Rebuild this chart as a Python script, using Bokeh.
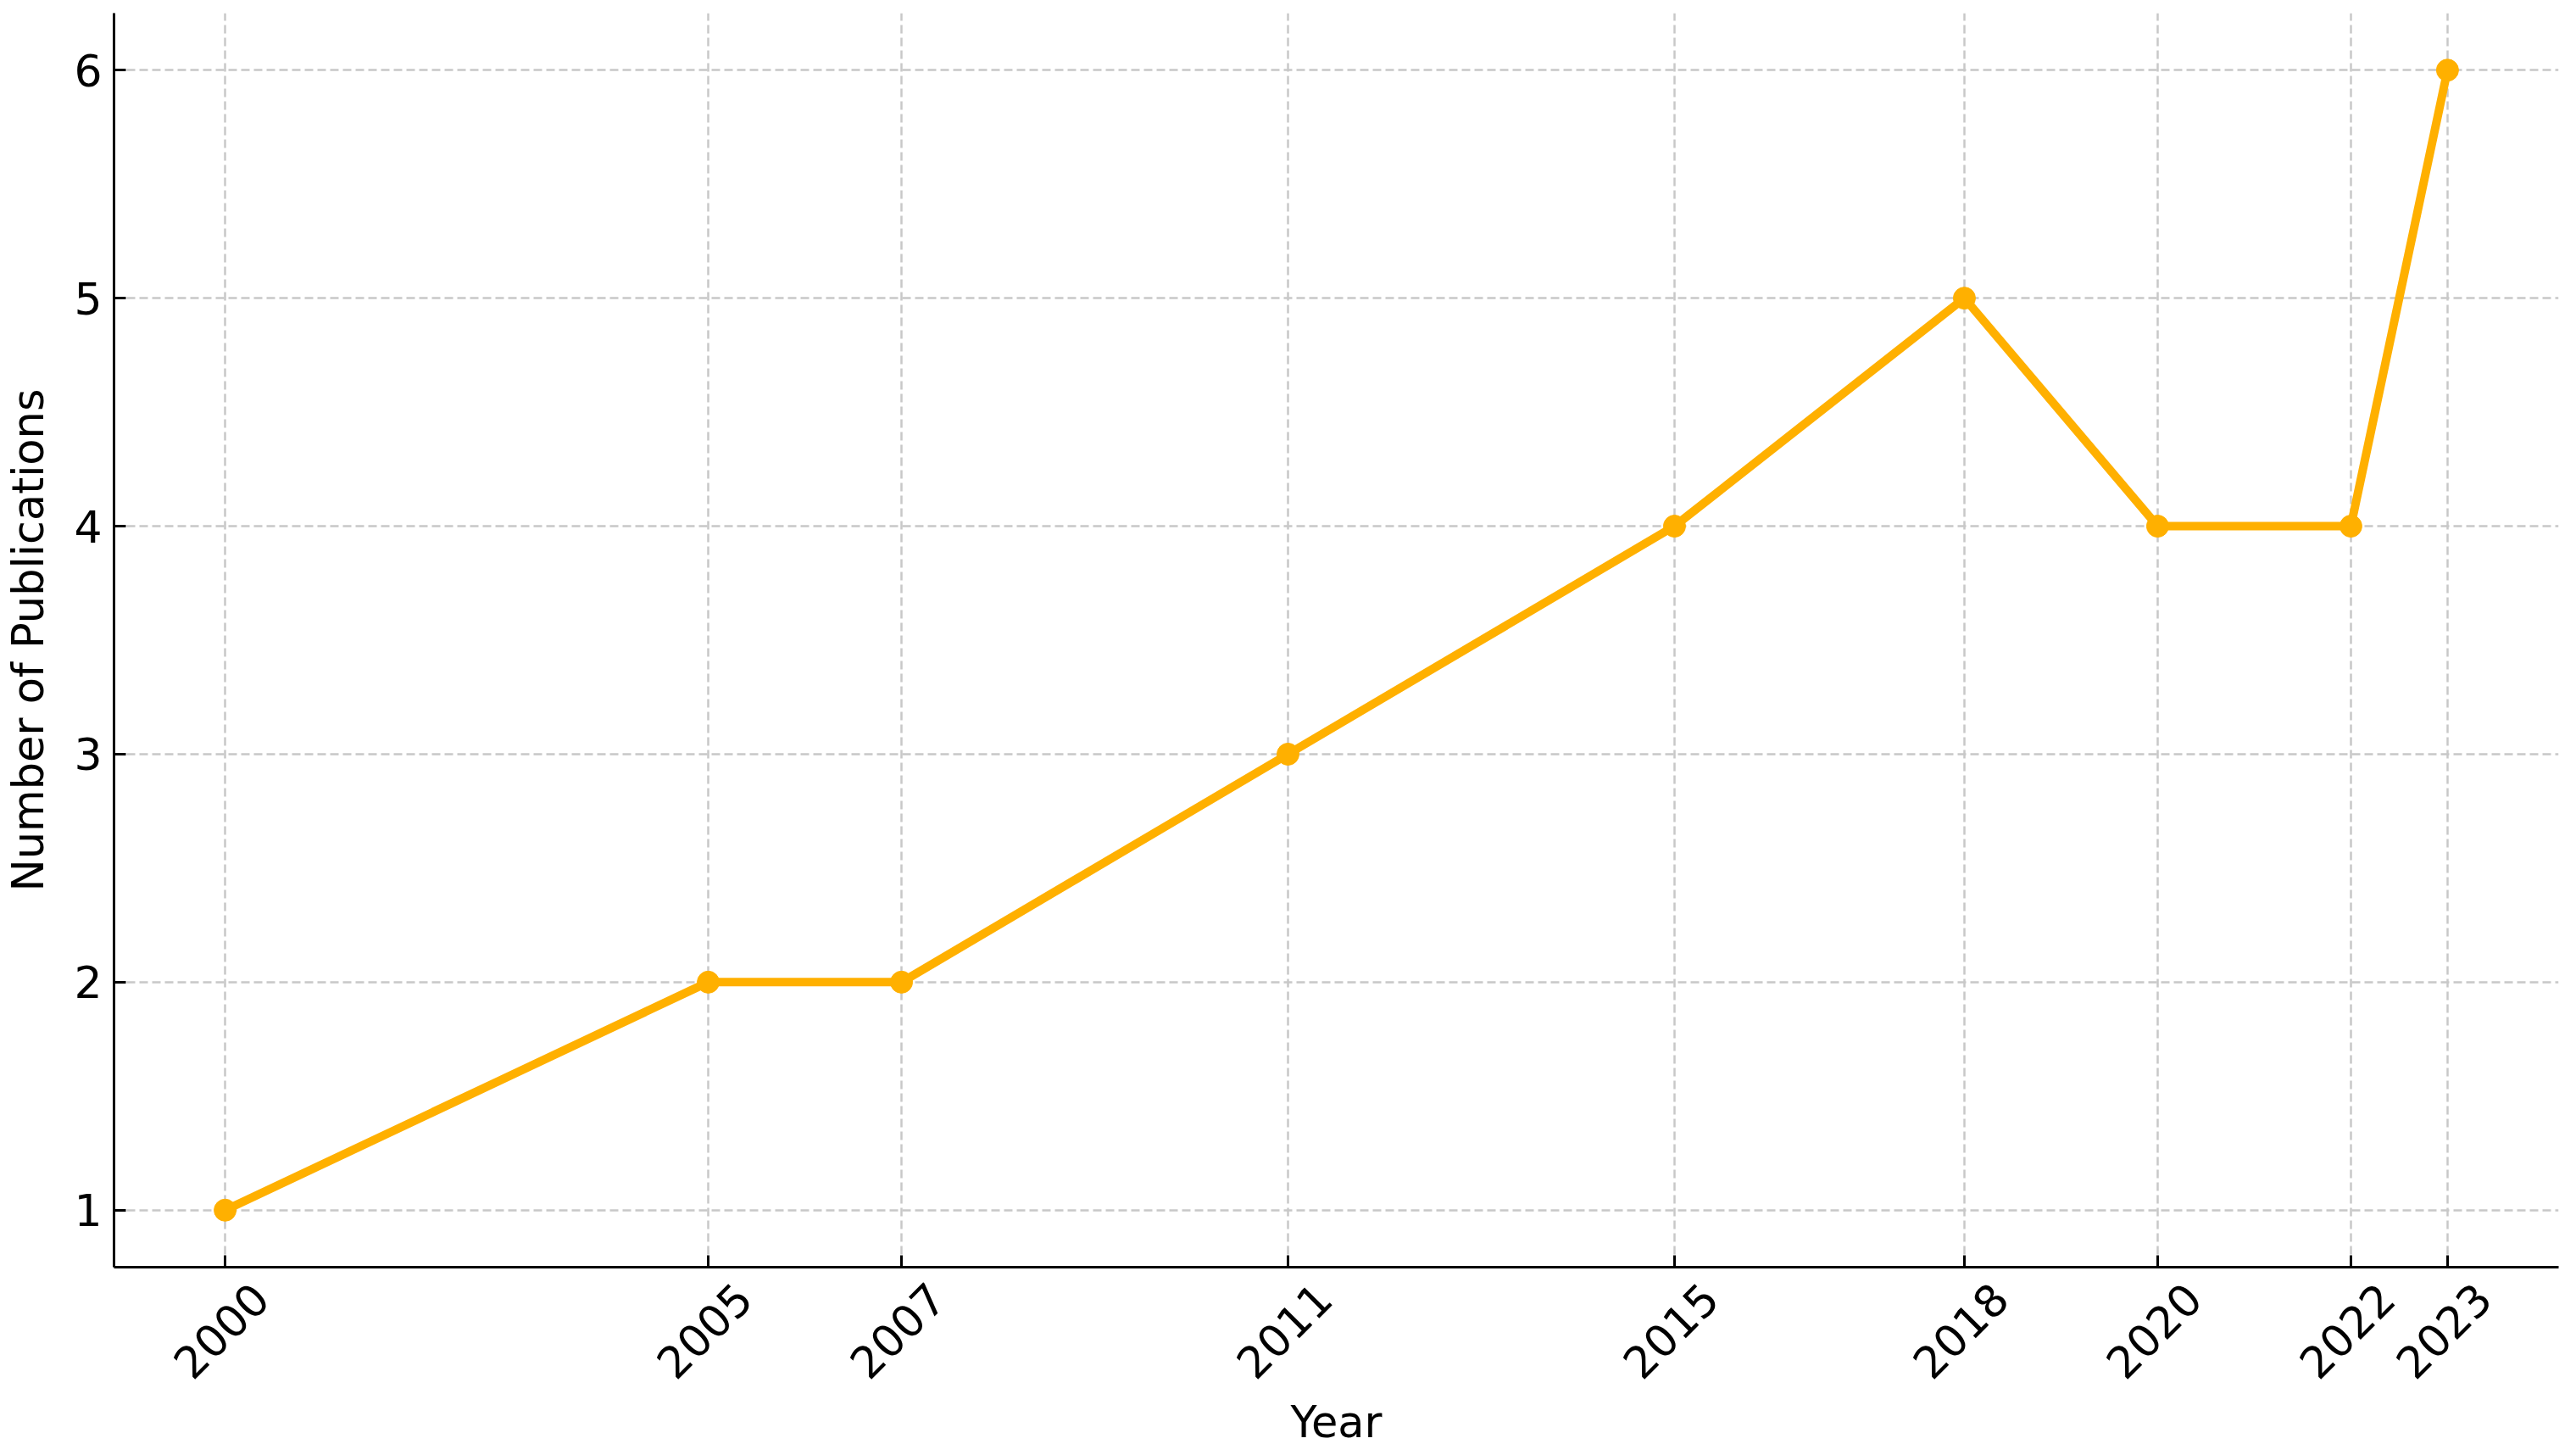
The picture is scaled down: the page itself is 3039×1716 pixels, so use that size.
import math
from bokeh.plotting import figure
from bokeh.models import Range1d, FixedTicker, LinearAxis
from bokeh.embed import file_html
from bokeh.resources import INLINE

years = [2000, 2005, 2007, 2011, 2015, 2018, 2020, 2022, 2023]
publications = [1, 2, 2, 3, 4, 5, 4, 4, 6]
y_ticks = [1, 2, 3, 4, 5, 6]

LINE_COLOR = "#FFB000"
FONT = "DejaVu Sans"
X0, X1 = 1998.85, 2024.15
LABEL_SHIFT = 0.37  # centres the rotated year labels under their ticks

p = figure(frame_width=2884, frame_height=1479, output_backend="svg", toolbar_location=None,
           x_range=Range1d(X0, X1), y_range=Range1d(0.75, 6.25),
           min_border_left=134, min_border_right=5, min_border_top=15, min_border_bottom=200)
p.outline_line_color = None
p.background_fill_color = "white"
p.border_fill_color = "white"

p.line(years, publications, line_color=LINE_COLOR, line_width=10)
p.scatter(years, publications, size=26, fill_color=LINE_COLOR, line_color=LINE_COLOR)

p.xaxis.ticker = FixedTicker(ticks=years)
p.yaxis.ticker = FixedTicker(ticks=y_ticks)

for ax in (p.xaxis, p.yaxis):
    ax.axis_line_width = 3
    ax.axis_line_color = "black"
    ax.major_tick_line_width = 3
    ax.major_tick_line_color = "black"
    ax.major_tick_in = 14
    ax.major_tick_out = 0
    ax.minor_tick_line_color = None
    ax.major_label_text_font = FONT
    ax.major_label_text_font_size = "52px"
    ax.major_label_text_color = "black"
    ax.axis_label_text_font = FONT
    ax.axis_label_text_font_size = "51px"
    ax.axis_label_text_font_style = "normal"
    ax.axis_label_text_color = "black"

# main x axis: line and ticks only
p.xaxis.major_label_overrides = {y: "" for y in years}
p.xaxis.major_label_text_font_size = "0px"
p.xaxis.major_label_standoff = 0

# label axis: rotated year labels and the axis title
p.extra_x_ranges = {"labels": Range1d(X0 - LABEL_SHIFT, X1 - LABEL_SHIFT)}
lab_ax = LinearAxis(x_range_name="labels", ticker=FixedTicker(ticks=years),
                    axis_label="Year")
lab_ax.axis_line_color = None
lab_ax.major_tick_line_color = None
lab_ax.minor_tick_line_color = None
lab_ax.major_tick_in = 0
lab_ax.major_tick_out = 0
lab_ax.major_label_orientation = math.pi / 4
lab_ax.major_label_standoff = 28
lab_ax.major_label_text_font = FONT
lab_ax.major_label_text_font_size = "52px"
lab_ax.major_label_text_color = "black"
lab_ax.axis_label_text_font = FONT
lab_ax.axis_label_text_font_size = "51px"
lab_ax.axis_label_text_font_style = "normal"
lab_ax.axis_label_text_color = "black"
lab_ax.axis_label_standoff = 2
p.add_layout(lab_ax, "below")

p.yaxis.axis_label = "Number of Publications"
p.yaxis.major_label_standoff = 14
p.yaxis.axis_label_standoff = 21

for g in (p.xgrid, p.ygrid):
    g.grid_line_color = "#c8c8c8"
    g.grid_line_width = 2.5
    g.grid_line_dash = "10 5"

open("out.html", "w").write(file_html(p, INLINE))
